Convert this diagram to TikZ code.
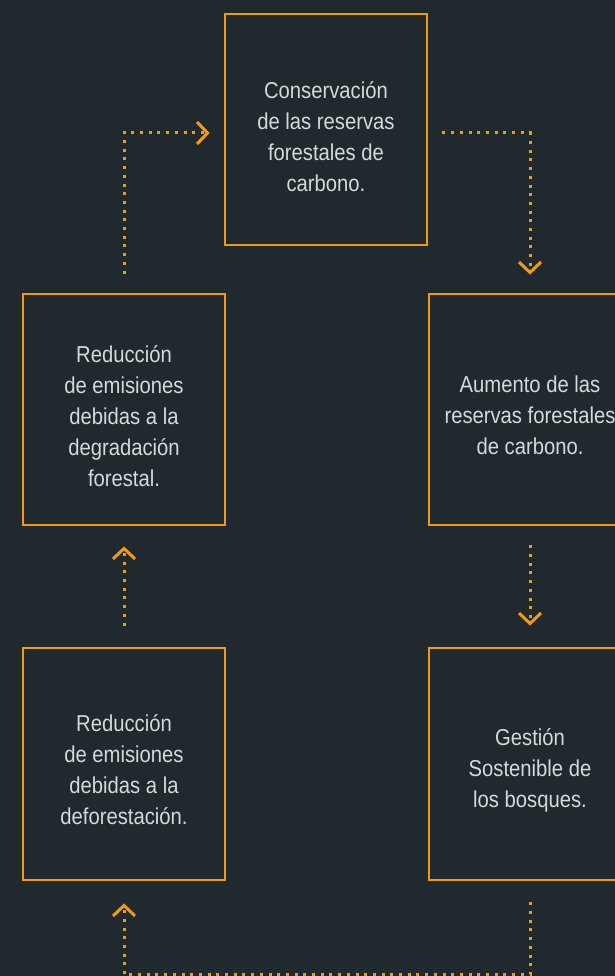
\documentclass[tikz,border=0pt]{standalone}
\usepackage{fontspec}
\setmainfont[FakeStretch=0.88]{Liberation Sans}
\usetikzlibrary{arrows.meta}
\definecolor{bg}{RGB}{31,41,46}
\definecolor{org}{RGB}{242,153,22}
\definecolor{txt}{RGB}{214,217,217}
\tikzset{
  box/.style={draw=org, line width=2.8pt, minimum width=202pt, minimum height=231pt,
    inner sep=0pt},
  lbl/.style={text=txt, align=center, inner sep=0pt, font=\fontsize{23}{31}\selectfont},
  conn/.style={org, line width=3pt, dash pattern=on 3pt off 5.7pt,
    -{Straight Barb[length=10.5pt,width=22pt,line width=3pt]}}
}
\begin{document}
\begin{tikzpicture}[x=1pt,y=1pt]
\path[use as bounding box, fill=bg] (0,0) rectangle (615,976);
\clip (0,0) rectangle (615,976);
\node[box] (top) at (326,846.5) {};
\node[box] (lm) at (124,566.5) {};
\node[box] (rm) at (530,566.5) {};
\node[box, minimum height=232pt] (lb) at (124,212) {};
\node[box, minimum height=232pt] (rb) at (530,212) {};
\node[lbl] (topt) at ([yshift=-7pt]top.center) {Conservación\\de las reservas\\forestales de\\carbono.};
\node[lbl] (lmt) at ([yshift=-7pt]lm.center) {Reducción\\de emisiones\\debidas a la\\degradación\\forestal.};
\node[lbl] (rmt) at ([yshift=-6pt]rm.center) {Aumento de las\\reservas forestales\\de carbono.};
\node[lbl] (lbt) at ([yshift=-6pt]lb.center) {Reducción\\de emisiones\\debidas a la\\deforestación.};
\node[lbl] (rbt) at ([yshift=-6pt]rb.center) {Gestión\\Sostenible de\\los bosques.};
\coordinate (bot) at (0,1.5);
\draw[conn, shorten <=19pt, shorten >=14pt] (lm.north) |- ([yshift=-3.5pt]top.west);
\draw[conn, shorten <=14pt, shorten >=18pt] ([yshift=-3.5pt]top.east) -| (rm.north);
\draw[conn, shorten <=19pt, shorten >=21pt] (rm.south) -- (rb.north);
\draw[conn, shorten <=21pt, shorten >=22pt] (rb.south) -- (rb.south |- bot) -- (lb.south |- bot) -- (lb.south);
\draw[conn, shorten <=21pt, shorten >=20pt] (lb.north) -- (lm.south);
\end{tikzpicture}
\end{document}
